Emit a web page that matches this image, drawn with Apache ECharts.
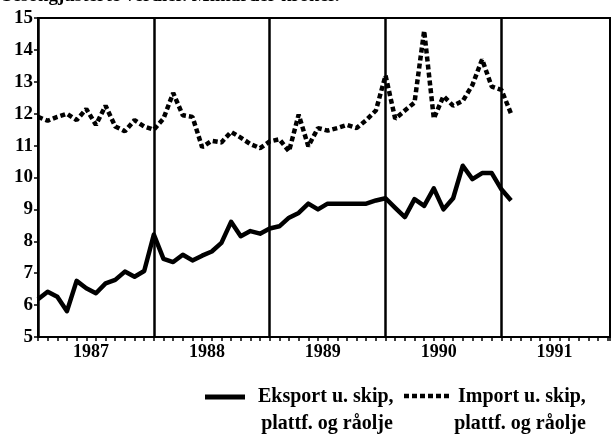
<!DOCTYPE html>
<html>
<head>
<meta charset="utf-8">
<script src="https://cdn.jsdelivr.net/npm/echarts@6/dist/echarts.min.js"></script>
<style>html,body{margin:0;padding:0;background:#fff}#c{width:615px;height:442px}</style>
</head>
<body>
<div id="c"></div>
<script>
// Monthly values, January 1987 .. February 1991 (billion NOK, seasonally adjusted)
const startYear = 1987;
const yearLabels = ['1987', '1988', '1989', '1990', '1991'];
const exportValues = [
  6.18, 6.42, 6.26, 5.81, 6.76, 6.53, 6.37, 6.68, 6.79, 7.05, 6.89, 7.07,
  8.21, 7.45, 7.35, 7.58, 7.40, 7.55, 7.68, 7.95, 8.61, 8.16, 8.32, 8.24,
  8.40, 8.47, 8.74, 8.89, 9.18, 9.00, 9.18, 9.18, 9.18, 9.18, 9.18, 9.28,
  9.35, 9.05, 8.76, 9.32, 9.11, 9.66, 9.00, 9.35, 10.37, 9.95, 10.14, 10.14,
  9.63, 9.28
];
const importValues = [
  11.90, 11.78, 11.90, 12.00, 11.80, 12.15, 11.65, 12.25, 11.60, 11.45, 11.80, 11.60,
  11.50, 11.85, 12.65, 11.95, 11.90, 10.95, 11.15, 11.10, 11.43, 11.25, 11.05, 10.92,
  11.13, 11.20, 10.82, 11.97, 10.98, 11.55, 11.47, 11.55, 11.65, 11.55, 11.80, 12.10,
  13.20, 11.84, 12.10, 12.35, 14.60, 11.85, 12.55, 12.25, 12.40, 12.90, 13.70, 12.85,
  12.75, 12.00
];
const seriesNames = ['Eksport u. skip,\nplattf. og råolje', 'Import u. skip,\nplattf. og råolje'];
const titleText = 'Sesongjusterte verdier. Milliarder kroner.';

const FONT = 'Liberation Serif';
const toPairs = arr => arr.map((v, i) => [i, v]);
const yearStarts = yearLabels.map((y, i) => i * 12);

const chart = echarts.init(document.getElementById('c'), null, {renderer: 'canvas'});
chart.setOption({
  animation: false,
  backgroundColor: '#fff',
  grid: {left: 38, right: 5, top: 18, bottom: 105, show: true, borderColor: '#000', borderWidth: 2, backgroundColor: 'transparent'},
  xAxis: [
    {
      type: 'value', min: 0, max: 59.25, interval: 1,
      axisLine: {show: true, lineStyle: {color: '#000', width: 2}},
      axisTick: {show: true, inside: false, length: 4, lineStyle: {color: '#000', width: 1.5}},
      axisLabel: {show: false},
      splitLine: {show: false}
    },
    {
      type: 'value', min: 0, max: 59.25, interval: 0.5, position: 'bottom',
      axisLine: {show: false}, axisTick: {show: false}, splitLine: {show: false},
      axisLabel: {
        show: true, margin: 6, color: '#000', fontFamily: FONT, fontWeight: 'bold', fontSize: 18,
        formatter: v => {
          const r = v % 12;
          if (Math.abs(r - 5.5) < 1e-6) {
            const idx = Math.round((v - 5.5) / 12);
            return yearLabels[idx] || '';
          }
          return '';
        }
      }
    }
  ],
  yAxis: {
    type: 'value', min: 5, max: 15, interval: 1, offset: 4,
    axisLine: {show: true, lineStyle: {color: '#000', width: 2}},
    axisTick: {show: true, length: 4, lineStyle: {color: '#000', width: 1.5}},
    axisLabel: {color: '#000', fontFamily: FONT, fontWeight: 'bold', fontSize: 19, margin: 1},
    splitLine: {show: false}
  },
  series: [
    {
      name: seriesNames[0], type: 'line', data: toPairs(exportValues),
      symbol: 'none', lineStyle: {color: '#000', width: 4.5, join: 'round'},
      markLine: {
        silent: true, symbol: ['none', 'none'], label: {show: false},
        lineStyle: {color: '#000', width: 2.5, type: 'solid'},
        data: yearStarts.map(x => ({xAxis: x}))
      },
      z: 3
    },
    {
      name: seriesNames[1], type: 'line', data: toPairs(importValues),
      symbol: 'none', lineStyle: {color: '#000', width: 4.5, type: [5, 3], cap: 'butt'},
      z: 3
    }
  ],
  graphic: [
    {type: 'text', left: 2, top: -13, style: {text: titleText, font: 'bold 19px "' + FONT + '"', fill: '#000'}},
    {type: 'line', shape: {x1: 205, y1: 397, x2: 245, y2: 397}, style: {stroke: '#000', lineWidth: 5}},
    {type: 'text', x: 258, y: 397, style: {text: 'Eksport u. skip,', font: 'bold 20px "' + FONT + '"', fill: '#000', verticalAlign: 'middle', align: 'left'}},
    {type: 'text', x: 327, y: 424, style: {text: 'plattf. og råolje', font: 'bold 20px "' + FONT + '"', fill: '#000', verticalAlign: 'middle', align: 'center'}},
    {type: 'line', shape: {x1: 404, y1: 396, x2: 450, y2: 396}, style: {stroke: '#000', lineWidth: 4.5, lineDash: [5, 3]}},
    {type: 'text', x: 458, y: 397, style: {text: 'Import u. skip,', font: 'bold 20px "' + FONT + '"', fill: '#000', verticalAlign: 'middle', align: 'left'}},
    {type: 'text', x: 520, y: 424, style: {text: 'plattf. og råolje', font: 'bold 20px "' + FONT + '"', fill: '#000', verticalAlign: 'middle', align: 'center'}}
  ]
});
</script>
</body>
</html>
